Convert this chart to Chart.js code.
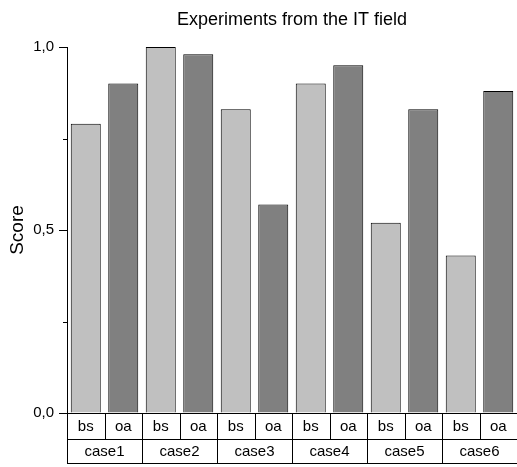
<!DOCTYPE html>
<html>
<head>
<meta charset="utf-8">
<script src="https://cdn.jsdelivr.net/npm/chart.js@4"></script>
<style>
html,body{margin:0;padding:0;background:#fff;}
#wrap{width:517px;height:467px;}
</style>
</head>
<body>
<div id="wrap"><canvas id="c" width="517" height="467"></canvas></div>
<script>
const titleText = 'Experiments from the IT field';
const yTitle = 'Score';
const groups = ['case1','case2','case3','case4','case5','case6'];
const seriesNames = ['bs','oa'];
const bsValues = [0.79, 1.00, 0.83, 0.90, 0.52, 0.43];
const oaValues = [0.90, 0.98, 0.57, 0.95, 0.83, 0.88];
const majorTicks = [0, 0.5, 1.0];
const minorTicks = [0.25, 0.75];
const seriesColors = ['#c0c0c0', '#808080'];

const FONT = '"Liberation Sans", Arial, sans-serif';

const labels = [];
const dsBs = [], dsOa = [];
groups.forEach((g, i) => {
  labels.push(g + ' ' + seriesNames[0]);
  labels.push(g + ' ' + seriesNames[1]);
  dsBs.push(bsValues[i], null);
  dsOa.push(null, oaValues[i]);
});

const boxPlugin = {
  id: 'boxes',
  afterDraw(chart) {
    const ctx = chart.ctx;
    const xs = chart.scales.x, ys = chart.scales.y;
    const ca = chart.chartArea;
    const slot = xs.getPixelForValue(1) - xs.getPixelForValue(0);
    const top = ca.bottom, mid = ca.bottom + 26, bot = ca.bottom + 50;
    ctx.save();
    ctx.strokeStyle = '#000';
    ctx.lineWidth = 1;
    ctx.beginPath();
    [mid, bot].forEach(y => {
      ctx.moveTo(ca.left, Math.round(y) + 0.5);
      ctx.lineTo(ca.right, Math.round(y) + 0.5);
    });
    for (let i = 0; i < labels.length; i++) {
      const xl = Math.round(xs.getPixelForValue(i) - slot / 2) + 0.5;
      ctx.moveTo(xl, top);
      ctx.lineTo(xl, mid);
      if (i % 2 === 0) {
        ctx.moveTo(xl, mid);
        ctx.lineTo(xl, bot);
      }
    }
    minorTicks.forEach(v => {
      const y = Math.round(ys.getPixelForValue(v)) + 0.5;
      ctx.moveTo(ca.left - 4, y);
      ctx.lineTo(ca.left, y);
    });
    ctx.stroke();
    ctx.beginPath();
    ctx.moveTo(ca.left, Math.round(top) + 0.5);
    ctx.lineTo(ca.right, Math.round(top) + 0.5);
    ctx.stroke();
    ctx.fillStyle = '#000';
    ctx.font = '15px ' + FONT;
    ctx.textAlign = 'center';
    ctx.textBaseline = 'middle';
    for (let i = 0; i < labels.length; i++) {
      const c = xs.getPixelForValue(i);
      ctx.fillText(seriesNames[i % 2], c, (top + mid) / 2 + 1);
    }
    groups.forEach((g, k) => {
      const c = (xs.getPixelForValue(2 * k) + xs.getPixelForValue(2 * k + 1)) / 2;
      ctx.fillText(g, c, (mid + bot) / 2 + 1);
    });
    // chart title
    ctx.font = '18px ' + FONT;
    ctx.fillText(titleText, (ca.left + ca.right) / 2, 20);
    // y-axis title
    ctx.save();
    ctx.translate(18, (ca.top + ca.bottom) / 2);
    ctx.rotate(-Math.PI / 2);
    ctx.font = '19px ' + FONT;
    ctx.fillText(yTitle, 0, 0);
    ctx.restore();
    ctx.restore();
  }
};

new Chart(document.getElementById('c'), {
  type: 'bar',
  data: {
    labels: labels,
    datasets: [
      { label: seriesNames[0], data: dsBs, backgroundColor: seriesColors[0], borderColor: '#000', borderWidth: 1, grouped: false, barPercentage: 0.8, categoryPercentage: 1 },
      { label: seriesNames[1], data: dsOa, backgroundColor: seriesColors[1], borderColor: '#000', borderWidth: 1, grouped: false, barPercentage: 0.8, categoryPercentage: 1 }
    ]
  },
  options: {
    responsive: false,
    animation: false,
    devicePixelRatio: 1,
    layout: { padding: { left: 0, right: 0, top: 47, bottom: 0 } },
    plugins: {
      legend: { display: false },
      tooltip: { enabled: false },
      title: { display: false }
    },
    scales: {
      x: {
        display: true,
        grid: { display: false },
        ticks: { display: false },
        border: { display: false },
        afterFit(s) { s.height = 54; }
      },
      y: {
        min: 0, max: 1,
        afterBuildTicks(s) { s.ticks = majorTicks.map(v => ({ value: v })); },
        ticks: {
          color: '#000',
          font: { family: FONT, size: 15 },
          padding: 5,
          callback: v => v.toFixed(1).replace('.', ',')
        },
        grid: { drawOnChartArea: false, tickLength: 8, color: '#000', tickColor: '#000' },
        border: { display: true, color: '#000', width: 1 },
        title: { display: false },
        afterFit(s) { s.width = 67; }
      }
    }
  },
  plugins: [boxPlugin]
});
</script>
</body>
</html>
